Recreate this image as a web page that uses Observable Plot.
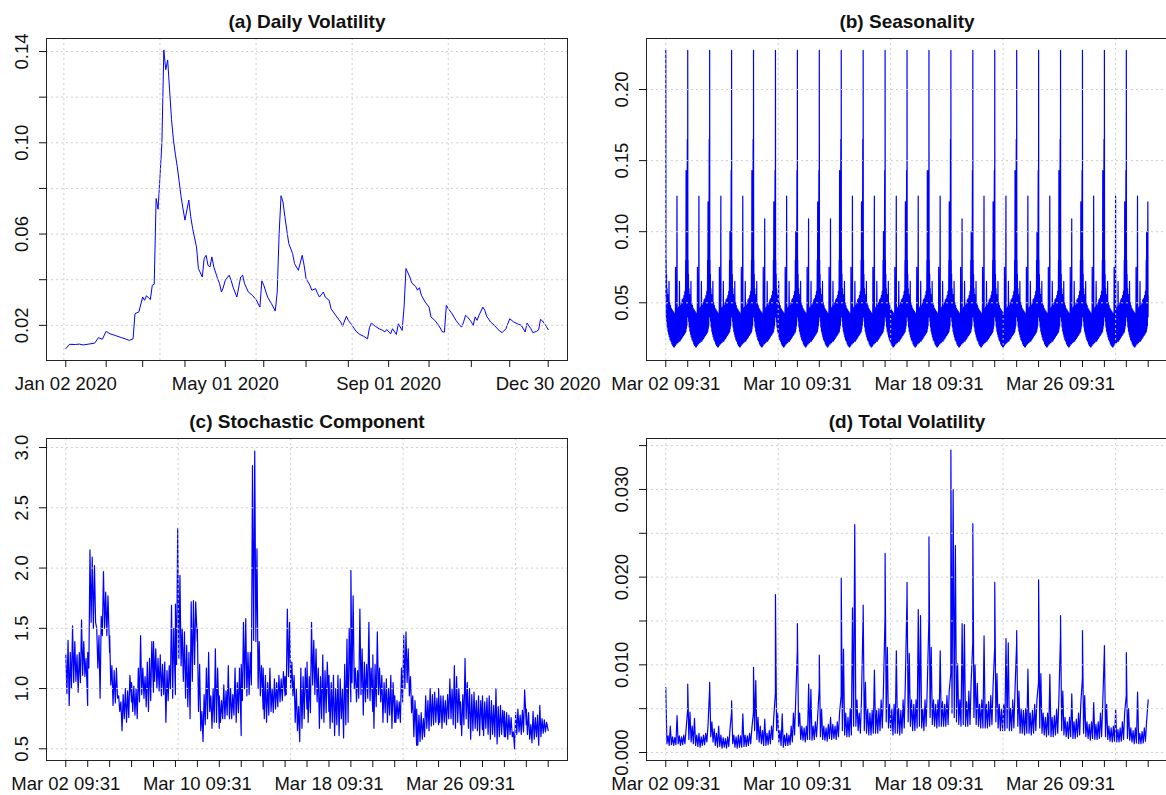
<!DOCTYPE html>
<html>
<head>
<meta charset="utf-8">
<script src="https://cdn.jsdelivr.net/npm/d3@7"></script>
<script src="https://cdn.jsdelivr.net/npm/@observablehq/plot@0.6"></script>
<style>
html, body { margin: 0; padding: 0; background: #fff; overflow: hidden; width: 1166px; height: 795px; }
.panel { position: absolute; width: 583px; height: 396px; }
</style>
</head>
<body>
<div id="pa" class="panel" style="left:0px;top:0px"></div>
<div id="pb" class="panel" style="left:600px;top:0px"></div>
<div id="pc" class="panel" style="left:0px;top:400px"></div>
<div id="pd" class="panel" style="left:600px;top:400px"></div>
<script>
// ---------------- (a) Daily volatility: [trading-day index, value] ----------------
const dailyVol = [
[1,0.0098],[3,0.0117],[6,0.0116],[8,0.0118],[10,0.0114],[13,0.0118],[16,0.0122],[18,0.0146],[20,0.0139],[22,0.0174],
[24,0.0163],[27,0.0155],[30,0.0146],[32,0.0141],[34,0.0134],[36,0.0141],[37,0.0251],[39,0.0259],[41,0.0324],[42,0.0310],
[43,0.0330],[45,0.0313],[46,0.0376],[47,0.0380],[48,0.0756],[49,0.0709],[50,0.0851],[51,0.0998],[52,0.1407],[53,0.1320],
[54,0.1363],[55,0.1232],[56,0.1103],[57,0.1012],[58,0.0950],[59,0.0895],[60,0.0829],[61,0.0763],[62,0.0710],[63,0.0661],
[64,0.0705],[65,0.0749],[66,0.0676],[67,0.0624],[69,0.0544],[70,0.0449],[72,0.0412],[73,0.0493],[74,0.0507],[75,0.0463],
[76,0.0456],[77,0.0500],[78,0.0456],[80,0.0405],[81,0.0383],[82,0.0346],[83,0.0368],[84,0.0398],[86,0.0420],[87,0.0398],
[88,0.0368],[90,0.0324],[92,0.0412],[93,0.0420],[94,0.0383],[96,0.0346],[98,0.0332],[100,0.0313],[102,0.0280],[103,0.0395],
[104,0.0376],[106,0.0324],[108,0.0295],[110,0.0263],[111,0.0346],[112,0.0602],[113,0.0768],[114,0.0741],[115,0.0676],[116,0.0617],
[117,0.0559],[119,0.0515],[120,0.0471],[121,0.0456],[122,0.0441],[124,0.0507],[125,0.0463],[126,0.0405],[128,0.0376],[129,0.0354],
[131,0.0361],[132,0.0339],[133,0.0324],[135,0.0346],[136,0.0324],[138,0.0310],[139,0.0273],[142,0.0237],[144,0.0215],[145,0.0196],
[147,0.0240],[148,0.0222],[150,0.0200],[152,0.0174],[154,0.0160],[156,0.0152],[158,0.0141],[159,0.0190],[160,0.0210],[162,0.0196],
[164,0.0185],[166,0.0178],[167,0.0171],[168,0.0182],[170,0.0163],[171,0.0185],[173,0.0160],[174,0.0207],[175,0.0193],[176,0.0178],
[177,0.0280],[178,0.0449],[180,0.0412],[181,0.0386],[183,0.0371],[184,0.0354],[185,0.0365],[186,0.0332],[188,0.0302],[190,0.0280],
[191,0.0237],[193,0.0222],[195,0.0200],[197,0.0171],[198,0.0171],[199,0.0288],[200,0.0273],[202,0.0251],[204,0.0222],[206,0.0200],
[207,0.0193],[208,0.0215],[209,0.0244],[210,0.0237],[212,0.0215],[213,0.0200],[214,0.0237],[215,0.0222],[216,0.0244],[218,0.0280],
[219,0.0266],[220,0.0240],[222,0.0215],[224,0.0200],[226,0.0181],[228,0.0168],[230,0.0185],[232,0.0229],[234,0.0215],[236,0.0207],
[238,0.0200],[240,0.0171],[241,0.0210],[243,0.0185],[244,0.0168],[246,0.0174],[247,0.0180],[248,0.0226],[249,0.0220],[251,0.0196],
[252,0.0181]
];
const dailyTickIdx = [1,22,41,63,84,104,126,148,169,190,212,232,252];
const dailyTickLabels = ["Jan 02 2020","","","","May 01 2020","","","","Sep 01 2020","","","","Dec 30 2020"];

// ---------------- intraday (March 2020, 390 one-minute bars per day) ----------------
const tradingDays = ["Mar 02","Mar 03","Mar 04","Mar 05","Mar 06","Mar 09","Mar 10","Mar 11","Mar 12","Mar 13","Mar 16",
  "Mar 17","Mar 18","Mar 19","Mar 20","Mar 23","Mar 24","Mar 25","Mar 26","Mar 27","Mar 30","Mar 31"];
const labelledDays = ["Mar 02","Mar 10","Mar 18","Mar 26"];
const minutesPerDay = 390;

// (b) Seasonality: intraday profile [minute, value]; "mid","pre","close" read per day below
const seasonProfile = [
[1,0.2275],[4,0.055],[7,0.080],[10,0.040],[14,0.070],[18,0.037],[23,0.060],[28,0.033],[34,0.056],[40,0.030],
[46,0.052],[52,0.028],[58,0.065],[64,0.026],[71,0.050],[78,0.024],[85,0.048],[92,0.023],[100,0.046],[108,0.021],
[116,0.045],[124,0.020],[132,0.044],[140,0.019],[148,0.043],[156,0.019],[164,0.042],[170,0.020],[174,0.075],[180,0.021],
[188,0.043],[194,0.021],[200,"mid"],[204,0.022],[212,0.046],[220,0.022],[228,0.047],[236,0.023],[244,0.065],[252,0.023],
[260,0.048],[268,0.024],[276,0.050],[284,0.025],[292,0.052],[300,0.026],[308,0.053],[316,0.027],[324,0.055],[332,0.028],
[340,0.058],[348,0.029],[355,0.080],[358,0.030],[362,"pre"],[366,0.032],[371,0.060],[376,0.034],[384,"close"],[387,0.040],[390,0.055]
];
const seasonMidPeak   = [0.125,0.125,0.125,0.125,0.109,0.125,0.109,0.109,0.125,0.125,0.125,0.125,0.125,0.109,0.125,0.125,0.125,0.125,0.109,0.125,0.125,0.125];
const seasonPreClose  = [0.143,0.121,0.100,0.143,0.121,0.100,0.121,0.143,0.121,0.100,0.121,0.143,0.121,0.100,0.121,0.143,0.100,0.143,0.121,0.143,0.121,0.100];
const seasonClosePeak = [0.165,0.165,0.143,0.165,0.143,0.143,0.143,0.165,0.165,0.143,0.143,0.143,0.165,0.143,0.143,0.165,0.143,0.165,0.143,0.165,0.143,0.121];

// minutes of the day at which (c) and (d) were read
const sampleMinutes = [1,21,41,61,81,101,121,141,161,181,201,221,241,261,281,301,321,341,361,390];

// (c) Stochastic component, one row per trading day
const stochByDay = [
[1.28,0.96,1.40,0.86,1.30,1.00,1.52,1.05,1.39,1.06,1.28,0.97,1.30,1.05,1.57,1.11,1.39,1.10,1.25,0.86],
[1.30,1.17,2.15,1.55,2.09,1.50,2.02,1.55,1.50,1.17,1.44,0.92,1.60,1.44,1.97,1.50,1.80,1.44,1.77,1.30],
[1.44,1.03,1.19,0.86,1.15,0.88,1.17,0.92,0.94,0.81,0.89,0.65,0.95,0.75,1.00,0.72,0.98,0.76,1.11,0.89],
[1.05,0.81,1.02,0.78,1.00,0.75,1.17,0.89,1.44,0.95,1.17,0.92,1.10,0.85,1.22,0.81,1.25,0.90,1.39,0.97],
[1.39,1.06,1.33,1.00,1.25,0.98,1.28,0.94,1.20,0.95,1.22,0.72,1.15,0.90,1.19,1.00,1.69,0.92,1.50,0.95],
[1.70,1.20,2.33,1.25,1.94,1.19,1.50,1.06,1.47,0.92,1.36,0.85,1.30,0.75,1.72,1.06,1.73,1.20,1.72,1.39],
[1.50,0.81,1.20,0.65,0.81,0.56,0.95,0.70,1.17,0.75,1.30,0.81,0.94,0.67,1.00,0.72,1.33,0.72,1.17,0.67],
[0.94,0.72,0.90,0.75,1.03,0.75,0.98,0.78,1.19,0.75,1.00,0.75,0.95,0.78,1.17,0.72,1.05,0.80,1.17,0.61],
[1.20,0.90,1.55,1.00,1.58,0.94,1.30,0.95,1.30,1.03,2.85,1.40,2.97,1.39,2.16,1.00,1.39,0.94,1.19,0.83],
[1.17,0.75,1.11,0.72,1.05,0.78,1.17,0.81,1.00,0.80,1.08,0.83,1.05,0.85,1.11,0.89,1.08,0.90,1.14,0.94],
[1.10,0.95,1.66,1.10,1.55,1.00,1.22,0.94,1.11,0.72,1.00,0.65,0.85,0.56,1.17,0.67,1.10,0.75,1.17,0.83],
[1.22,0.72,1.10,0.80,1.55,1.03,1.40,0.95,1.33,0.89,1.17,0.67,1.10,0.75,1.28,0.72,1.15,0.80,1.22,0.81],
[1.11,0.67,1.05,0.72,1.11,0.61,1.00,0.70,1.11,0.61,1.08,0.75,1.00,0.59,1.20,0.70,1.41,0.72,1.50,0.89],
[1.98,1.05,1.77,1.00,1.17,0.89,1.15,0.92,1.66,0.95,1.33,0.78,1.22,0.89,1.20,0.92,1.55,0.90,1.17,0.81],
[1.28,0.67,1.20,0.85,1.47,0.95,1.17,0.89,1.11,0.72,1.05,0.80,1.08,0.72,1.00,0.78,1.11,0.67,1.05,0.72],
[0.94,0.72,0.90,0.75,0.89,0.72,1.17,0.89,1.44,1.00,1.47,1.05,1.33,0.94,1.10,0.80,0.94,0.60,0.90,0.53],
[0.83,0.53,0.78,0.56,0.80,0.58,0.75,0.60,0.94,0.67,0.90,0.65,1.00,0.69,0.95,0.70,0.97,0.72,0.92,0.70],
[1.00,0.72,0.94,0.67,0.94,0.72,0.90,0.70,0.95,0.75,1.08,0.75,1.00,0.70,1.19,0.67,1.10,0.72,1.00,0.70],
[0.89,0.61,0.95,0.70,1.25,0.75,1.05,0.67,1.00,0.58,0.95,0.65,0.97,0.67,0.90,0.65,0.94,0.61,0.90,0.66],
[0.94,0.61,0.89,0.67,0.92,0.62,0.94,0.58,0.90,0.62,0.86,0.60,1.00,0.54,0.85,0.60,0.86,0.62,0.82,0.60],
[0.81,0.60,0.80,0.58,0.78,0.62,0.76,0.60,0.64,0.50,0.80,0.62,0.83,0.64,0.78,0.62,0.82,0.64,0.99,0.70],
[0.83,0.62,0.80,0.58,0.70,0.55,0.81,0.58,0.76,0.60,0.78,0.53,0.86,0.60,0.75,0.63,0.74,0.64,0.72,0.65]
];

// (d) Total volatility, one row per trading day
const totalByDay = [
[0.0074,0.0010,0.0019,0.0008,0.0030,0.0009,0.0018,0.0008,0.0017,0.0009,0.0042,0.0010,0.0019,0.0008,0.0018,0.0009,0.0020,0.0010,0.0026,0.0049],
[0.0078,0.0015,0.0046,0.0012,0.0030,0.0010,0.0039,0.0008,0.0020,0.0007,0.0022,0.0006,0.0018,0.0008,0.0020,0.0009,0.0022,0.0012,0.0030,0.0072],
[0.0080,0.0018,0.0035,0.0012,0.0027,0.0008,0.0022,0.0006,0.0030,0.0007,0.0020,0.0005,0.0017,0.0006,0.0016,0.0005,0.0018,0.0007,0.0025,0.0046],
[0.0059,0.0010,0.0020,0.0006,0.0018,0.0005,0.0020,0.0006,0.0019,0.0006,0.0044,0.0007,0.0020,0.0007,0.0019,0.0008,0.0022,0.0010,0.0027,0.0046],
[0.0097,0.0025,0.0082,0.0015,0.0040,0.0012,0.0030,0.0010,0.0025,0.0008,0.0038,0.0008,0.0022,0.0009,0.0025,0.0010,0.0030,0.0015,0.0040,0.0068],
[0.0180,0.0025,0.0045,0.0012,0.0025,0.0008,0.0044,0.0006,0.0020,0.0008,0.0022,0.0008,0.0020,0.0009,0.0030,0.0012,0.0045,0.0020,0.0060,0.0116],
[0.0147,0.0030,0.0045,0.0015,0.0030,0.0014,0.0028,0.0012,0.0030,0.0015,0.0078,0.0015,0.0072,0.0014,0.0030,0.0015,0.0035,0.0018,0.0040,0.0074],
[0.0111,0.0018,0.0050,0.0015,0.0030,0.0014,0.0028,0.0013,0.0032,0.0016,0.0040,0.0015,0.0032,0.0016,0.0030,0.0015,0.0035,0.0018,0.0045,0.0065],
[0.0199,0.0025,0.0118,0.0020,0.0045,0.0018,0.0040,0.0018,0.0050,0.0020,0.0165,0.0030,0.0260,0.0030,0.0060,0.0025,0.0045,0.0022,0.0060,0.0157],
[0.0168,0.0025,0.0080,0.0022,0.0050,0.0020,0.0045,0.0020,0.0048,0.0022,0.0094,0.0022,0.0048,0.0022,0.0050,0.0025,0.0060,0.0028,0.0070,0.0156],
[0.0227,0.0035,0.0120,0.0028,0.0055,0.0025,0.0050,0.0020,0.0055,0.0022,0.0116,0.0022,0.0050,0.0020,0.0048,0.0022,0.0060,0.0028,0.0080,0.0177],
[0.0194,0.0035,0.0113,0.0030,0.0060,0.0025,0.0055,0.0025,0.0060,0.0028,0.0163,0.0030,0.0156,0.0028,0.0050,0.0025,0.0060,0.0030,0.0075,0.0152],
[0.0246,0.0040,0.0120,0.0032,0.0060,0.0030,0.0055,0.0028,0.0060,0.0030,0.0116,0.0030,0.0058,0.0030,0.0055,0.0030,0.0065,0.0032,0.0070,0.0090],
[0.0345,0.0045,0.0300,0.0040,0.0236,0.0035,0.0101,0.0032,0.0060,0.0030,0.0147,0.0032,0.0146,0.0030,0.0058,0.0030,0.0070,0.0032,0.0080,0.0125],
[0.0261,0.0040,0.0100,0.0032,0.0079,0.0030,0.0055,0.0028,0.0060,0.0028,0.0133,0.0028,0.0055,0.0028,0.0058,0.0030,0.0065,0.0032,0.0075,0.0120],
[0.0194,0.0035,0.0090,0.0028,0.0055,0.0025,0.0050,0.0025,0.0055,0.0025,0.0130,0.0028,0.0125,0.0025,0.0050,0.0025,0.0060,0.0028,0.0070,0.0125],
[0.0139,0.0030,0.0070,0.0022,0.0050,0.0022,0.0048,0.0020,0.0050,0.0022,0.0095,0.0022,0.0045,0.0020,0.0048,0.0022,0.0055,0.0025,0.0060,0.0080],
[0.0197,0.0028,0.0090,0.0022,0.0045,0.0020,0.0040,0.0018,0.0045,0.0020,0.0089,0.0018,0.0040,0.0018,0.0042,0.0020,0.0050,0.0022,0.0060,0.0133],
[0.0156,0.0025,0.0070,0.0020,0.0040,0.0018,0.0035,0.0016,0.0040,0.0018,0.0067,0.0016,0.0035,0.0016,0.0038,0.0018,0.0045,0.0020,0.0055,0.0085],
[0.0139,0.0022,0.0065,0.0018,0.0035,0.0016,0.0032,0.0014,0.0035,0.0016,0.0057,0.0015,0.0032,0.0015,0.0035,0.0016,0.0045,0.0018,0.0055,0.0116],
[0.0122,0.0018,0.0055,0.0015,0.0030,0.0013,0.0028,0.0012,0.0030,0.0013,0.0049,0.0012,0.0026,0.0012,0.0028,0.0013,0.0035,0.0015,0.0045,0.0065],
[0.0114,0.0016,0.0050,0.0014,0.0028,0.0012,0.0025,0.0010,0.0028,0.0011,0.0069,0.0010,0.0022,0.0010,0.0024,0.0011,0.0028,0.0013,0.0035,0.0060]
];

// ---------------- build tables ----------------
const dataA = dailyVol.map(([i, v]) => ({i, v}));
const dataB = [];
tradingDays.forEach((day, d) => {
  for (const [m, v] of seasonProfile) {
    const val = v === "mid" ? seasonMidPeak[d] : v === "pre" ? seasonPreClose[d] : v === "close" ? seasonClosePeak[d] : v;
    dataB.push({i: d * minutesPerDay + m, v: val});
  }
});
const byDay = rows => rows.flatMap((row, d) => row.map((v, j) => ({i: d * minutesPerDay + sampleMinutes[j], v})));
const dataC = byDay(stochByDay);
const dataD = byDay(totalByDay);

const nIntraday = tradingDays.length * minutesPerDay;
const intradayTicks = tradingDays.map((_, d) => d * minutesPerDay + 1).concat([nIntraday]);
const intradayLabels = new Map(tradingDays.map((day, d) => [d * minutesPerDay + 1, labelledDays.includes(day) ? day + " 09:31" : ""]));
const dailyLabels = new Map(dailyTickIdx.map((t, k) => [t, dailyTickLabels[k]]));

const pad = (lo, hi) => [lo - 0.04 * (hi - lo), hi + 0.04 * (hi - lo)];

const fontFamily = "'Liberation Sans', Arial, Helvetica, sans-serif";
const gridStyle = {stroke: "#cfcfcf", strokeDasharray: "2,3", strokeWidth: 1};

function panel(id, cfg) {
  const svg = Plot.plot({
    width: 583, height: 396,
    marginLeft: 46, marginRight: 16, marginTop: 38, marginBottom: 36,
    x: {domain: cfg.xDomain, label: null},
    y: {domain: cfg.yDomain, label: null},
    style: {fontFamily, fontSize: "18.5px", color: "#111", background: "transparent", overflow: "visible"},
    marks: [
      Plot.line(cfg.data, {x: "i", y: "v", stroke: "#0000ff", strokeWidth: cfg.sw}),
      Plot.ruleX(cfg.xGrid, {x: d => d, ...gridStyle}),
      Plot.ruleY(cfg.yGrid, {y: d => d, ...gridStyle}),
      Plot.frame({stroke: "#222"}),
      Plot.axisX({ticks: cfg.xTicks, tickFormat: d => cfg.xLabels.get(d) ?? "", tickSize: 7, tickPadding: 9, fontSize: 18.5, label: null}),
      Plot.axisY({ticks: cfg.yGrid, tickFormat: () => "", tickSize: 7, label: null}),
      Plot.text(cfg.yLabels, {y: d => d, text: d => d3.format(cfg.yFmt)(d), frameAnchor: "left", dx: -24, rotate: -90,
        textAnchor: "middle", lineAnchor: "middle", fontSize: 18.5}),
      Plot.text([cfg.title], {text: d => d, frameAnchor: "top", dy: -17, fontWeight: "bold", fontSize: 19, lineAnchor: "middle"})
    ]
  });
  document.getElementById(id).append(svg);
}

const xDailyDomain = pad(1, dailyTickIdx[dailyTickIdx.length - 1]);
const xIntraDomain = pad(1, nIntraday);

panel("pa", {
  title: "(a) Daily Volatility", data: dataA, sw: 1,
  xDomain: xDailyDomain, yDomain: [0.0046, 0.1457],
  xGrid: [0, 50, 100, 150, 200, 250], xTicks: dailyTickIdx, xLabels: dailyLabels,
  yGrid: [0.02, 0.04, 0.06, 0.08, 0.10, 0.12, 0.14], yLabels: [0.02, 0.06, 0.10, 0.14], yFmt: ".2f"
});
panel("pb", {
  title: "(b) Seasonality", data: dataB, sw: 1.2,
  xDomain: xIntraDomain, yDomain: [0.0094, 0.2359],
  xGrid: [0, 2000, 4000, 6000, 8000], xTicks: intradayTicks, xLabels: intradayLabels,
  yGrid: [0.05, 0.10, 0.15, 0.20], yLabels: [0.05, 0.10, 0.15, 0.20], yFmt: ".2f"
});
panel("pc", {
  title: "(c) Stochastic Component", data: dataC, sw: 1.2,
  xDomain: xIntraDomain, yDomain: [0.403, 3.075],
  xGrid: [0, 2000, 4000, 6000, 8000], xTicks: intradayTicks, xLabels: intradayLabels,
  yGrid: [0.5, 1.0, 1.5, 2.0, 2.5, 3.0], yLabels: [0.5, 1.0, 1.5, 2.0, 2.5, 3.0], yFmt: ".1f"
});
panel("pd", {
  title: "(d) Total Volatility", data: dataD, sw: 1.2,
  xDomain: xIntraDomain, yDomain: [-0.00091, 0.03581],
  xGrid: [0, 2000, 4000, 6000, 8000], xTicks: intradayTicks, xLabels: intradayLabels,
  yGrid: [0, 0.005, 0.010, 0.015, 0.020, 0.025, 0.030, 0.035], yLabels: [0, 0.010, 0.020, 0.030], yFmt: ".3f"
});
</script>
</body>
</html>
